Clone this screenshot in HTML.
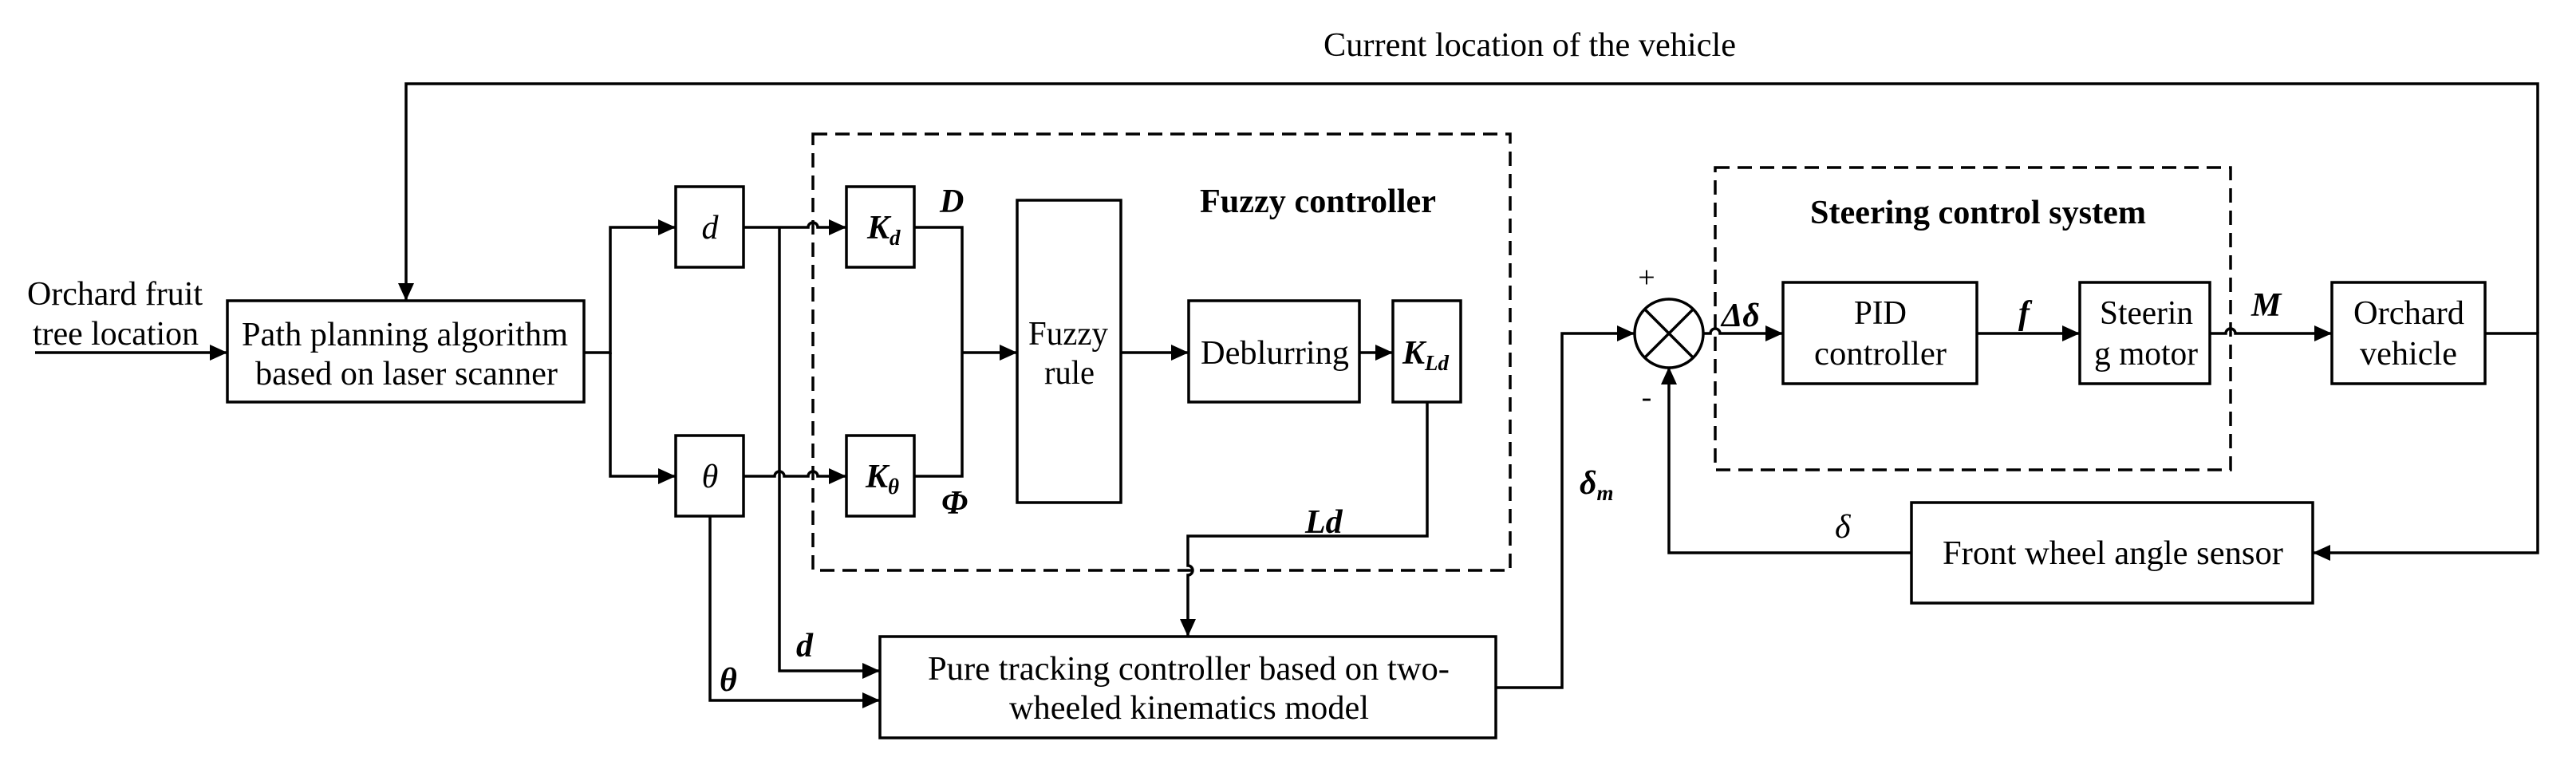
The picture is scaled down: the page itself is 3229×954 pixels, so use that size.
<!DOCTYPE html>
<html><head><meta charset="utf-8"><style>html,body{margin:0;padding:0;background:#fff}svg{display:block}</style></head>
<body>
<svg width="3229" height="954" viewBox="0 0 3229 954" xmlns="http://www.w3.org/2000/svg" font-family="Liberation Serif, serif" font-size="42">
<defs>
<marker id="a" markerWidth="22" markerHeight="20" refX="22" refY="10" orient="auto" markerUnits="userSpaceOnUse"><path d="M0,0 L22,10 L0,20 Z" fill="#000"/></marker>
</defs>
<g fill="none" stroke="#000" stroke-width="3.5">
<rect x="285" y="377" width="447" height="127"/>
<rect x="847" y="234" width="85" height="101"/>
<rect x="847" y="546" width="85" height="101"/>
<rect x="1061" y="234" width="85" height="101"/>
<rect x="1061" y="546" width="85" height="101"/>
<rect x="1275" y="251" width="130" height="379"/>
<rect x="1490" y="377" width="214" height="127"/>
<rect x="1746" y="377" width="85" height="127"/>
<rect x="1103" y="798" width="772" height="127"/>
<rect x="2235" y="354" width="243" height="127"/>
<rect x="2607" y="354" width="163" height="127"/>
<rect x="2923" y="354" width="192" height="127"/>
<rect x="2396" y="630" width="503" height="126"/>
<rect x="1019" y="168" width="874" height="547" stroke-dasharray="18,10"/>
<rect x="2150" y="210" width="646" height="379" stroke-dasharray="18,10"/>
<circle cx="2092" cy="418" r="43"/>
<path d="M2062,388 L2122,448 M2122,388 L2062,448"/>
<path d="M44,442 H285" marker-end="url(#a)"/>
<path d="M3181,418 V105 H509 V377" marker-end="url(#a)"/>
<path d="M732,442 H765 V285 H847" marker-end="url(#a)"/>
<path d="M765,442 V597 H847" marker-end="url(#a)"/>
<path d="M932,285 H1013 a6,6 0 0 1 12,0 H1061" marker-end="url(#a)"/>
<path d="M932,597 H971 a6,6 0 0 1 12,0 H1013 a6,6 0 0 1 12,0 H1061" marker-end="url(#a)"/>
<path d="M977,285 V841 H1103" marker-end="url(#a)"/>
<path d="M890,647 V878 H1103" marker-end="url(#a)"/>
<path d="M1146,285 H1206 V597 H1146"/>
<path d="M1206,442 H1275" marker-end="url(#a)"/>
<path d="M1405,442 H1490" marker-end="url(#a)"/>
<path d="M1704,442 H1746" marker-end="url(#a)"/>
<path d="M1789,504 V672 H1489 V709 a6,6 0 0 1 0,12 V798" marker-end="url(#a)"/>
<path d="M1875,862 H1958 V418 H2049" marker-end="url(#a)"/>
<path d="M2135,418 H2144 a6,6 0 0 1 12,0 H2235" marker-end="url(#a)"/>
<path d="M2478,418 H2607" marker-end="url(#a)"/>
<path d="M2770,418 H2790 a6,6 0 0 1 12,0 H2923" marker-end="url(#a)"/>
<path d="M3115,418 H3181 V693 H2899" marker-end="url(#a)"/>
<path d="M2396,693 H2092 V460" marker-end="url(#a)"/>
</g>
<g fill="#000">
<text x="34" y="382" textLength="220" lengthAdjust="spacingAndGlyphs">Orchard fruit</text>
<text x="41" y="432" textLength="208" lengthAdjust="spacingAndGlyphs">tree location</text>
<text x="303" y="433" textLength="409" lengthAdjust="spacingAndGlyphs">Path planning algorithm</text>
<text x="320" y="482" textLength="379" lengthAdjust="spacingAndGlyphs">based on laser scanner</text>
<text x="890" y="299" font-style="italic" text-anchor="middle">d</text>
<text x="890" y="611" font-style="italic" text-anchor="middle">θ</text>
<text x="1087" y="299" font-style="italic" font-weight="bold">K<tspan font-size="27" dy="8">d</tspan></text>
<text x="1085" y="611" font-style="italic" font-weight="bold">K<tspan font-size="27" dy="8">θ</tspan></text>
<text x="1178" y="266" font-style="italic" font-weight="bold">D</text>
<text x="1180" y="644" font-style="italic" font-weight="bold">Φ</text>
<text x="1289" y="432" textLength="100" lengthAdjust="spacingAndGlyphs">Fuzzy</text>
<text x="1309" y="481" textLength="63" lengthAdjust="spacingAndGlyphs">rule</text>
<text x="1505" y="456" textLength="186" lengthAdjust="spacingAndGlyphs">Deblurring</text>
<text x="1758" y="456" font-style="italic" font-weight="bold">K<tspan font-size="27" dy="8">Ld</tspan></text>
<text x="1504" y="266" font-weight="bold" textLength="296" lengthAdjust="spacingAndGlyphs">Fuzzy controller</text>
<text x="1636" y="668" font-style="italic" font-weight="bold">Ld</text>
<text x="998" y="823" font-style="italic" font-weight="bold">d</text>
<text x="902" y="866" font-style="italic" font-weight="bold">θ</text>
<text x="1163" y="852" textLength="654" lengthAdjust="spacingAndGlyphs">Pure tracking controller based on two-</text>
<text x="1265" y="901" textLength="451" lengthAdjust="spacingAndGlyphs">wheeled kinematics model</text>
<text x="1659" y="70" textLength="517" lengthAdjust="spacingAndGlyphs">Current location of the vehicle</text>
<text x="1980" y="619" font-style="italic" font-weight="bold">δ<tspan font-size="27" dy="8">m</tspan></text>
<text x="2064" y="360" text-anchor="middle" font-size="38">+</text>
<text x="2064" y="510" text-anchor="middle" font-size="38">-</text>
<text x="2158" y="409" font-style="italic" font-weight="bold">Δδ</text>
<text x="2269" y="280" font-weight="bold" textLength="421" lengthAdjust="spacingAndGlyphs">Steering control system</text>
<text x="2324" y="406" textLength="66" lengthAdjust="spacingAndGlyphs">PID</text>
<text x="2274" y="457" textLength="166" lengthAdjust="spacingAndGlyphs">controller</text>
<text x="2530" y="406" font-style="italic" font-weight="bold">f</text>
<text x="2632" y="406" textLength="117" lengthAdjust="spacingAndGlyphs">Steerin</text>
<text x="2625" y="457" textLength="130" lengthAdjust="spacingAndGlyphs">g motor</text>
<text x="2822" y="396" font-style="italic" font-weight="bold">M</text>
<text x="2950" y="406" textLength="139" lengthAdjust="spacingAndGlyphs">Orchard</text>
<text x="2958" y="457" textLength="122" lengthAdjust="spacingAndGlyphs">vehicle</text>
<text x="2435" y="707" textLength="427" lengthAdjust="spacingAndGlyphs">Front wheel angle sensor</text>
<text x="2300" y="674" font-style="italic">δ</text>
</g>
</svg>
</body></html>
